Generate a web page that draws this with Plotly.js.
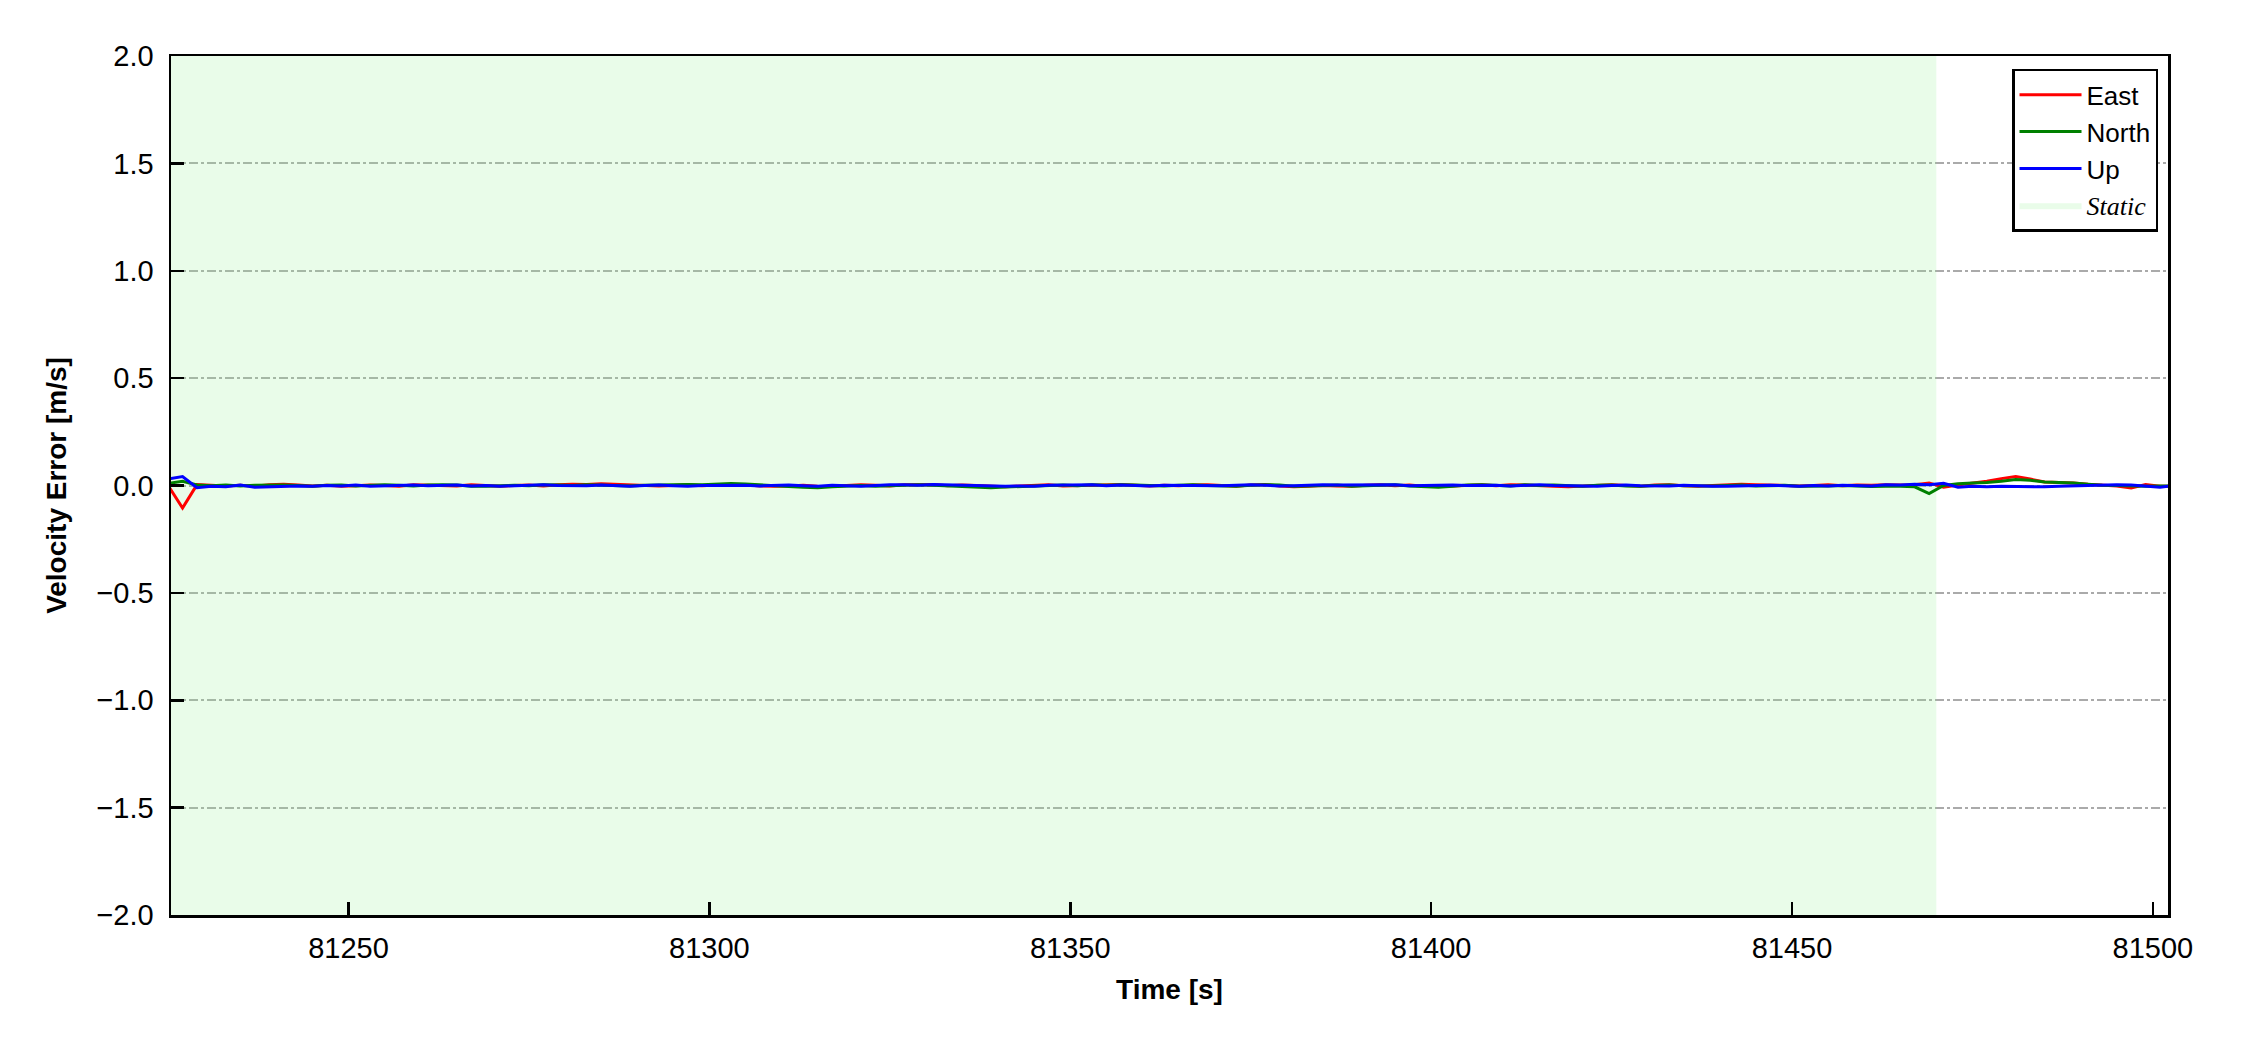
<!DOCTYPE html>
<html>
<head>
<meta charset="utf-8">
<script src="https://cdn.plot.ly/plotly-3.0.1.min.js"></script>
<style>html,body{margin:0;padding:0;background:#fff;}#chart{width:2250px;height:1050px;}</style>
</head>
<body>
<div id="chart"></div>
<script>
// Time axis: samples every 2 s starting at t0
const t0 = 81225;
const dt = 2;

// East velocity error [m/s]
const eastErr = [
  0.000, -0.105, 0.004, 0.002, -0.002, 0.001, -0.003, 0.004, 0.006, 0.002,
  -0.002, 0.001, -0.003, -0.001, 0.002, 0.000, -0.004, 0.003, 0.002, 0.001,
  -0.002, 0.003, 0.001, -0.003, 0.000, 0.002, -0.002, 0.004, 0.006, 0.005,
  0.008, 0.006, 0.004, 0.001, -0.002, 0.000, 0.003, -0.001, 0.002, 0.000,
  0.004, -0.002, -0.004, -0.002, 0.001, -0.003, -0.005, 0.000, 0.003, 0.001,
  -0.002, 0.004, 0.003, 0.005, -0.001, 0.002, 0.000, -0.004, -0.006, -0.002,
  0.001, 0.004, -0.002, 0.000, 0.003, 0.002, 0.005, 0.001, -0.002, 0.001,
  -0.001, 0.002, 0.004, 0.000, -0.003, 0.002, 0.005, -0.002, -0.006, -0.003,
  0.000, -0.002, -0.004, 0.001, 0.003, -0.001, 0.002, -0.003, -0.005, -0.002,
  0.001, 0.003, -0.001, 0.004, 0.002, -0.002, -0.004, -0.006, -0.002, 0.001,
  0.003, 0.000, -0.003, 0.002, 0.004, -0.001, -0.003, 0.000, 0.002, 0.006,
  0.004, 0.002, 0.001, -0.002, 0.000, 0.003, -0.001, 0.002, 0.001, 0.004,
  0.002, 0.004, 0.012, -0.008, 0.002, 0.010, 0.020, 0.032, 0.042, 0.030,
  0.016, 0.014, 0.012, 0.006, 0.002, -0.002, -0.012, 0.004, -0.004, -0.003
];

// North velocity error [m/s]
const northErr = [
  0.010, 0.020, 0.002, -0.001, 0.002, -0.002, 0.001, 0.003, 0.002, 0.000,
  -0.003, 0.001, 0.002, -0.002, 0.000, 0.003, 0.001, -0.002, 0.002, 0.004,
  0.002, -0.003, -0.004, -0.002, 0.001, -0.001, 0.003, 0.002, 0.000, 0.004,
  0.003, 0.000, -0.002, 0.001, 0.003, 0.002, 0.005, 0.004, 0.006, 0.009,
  0.007, 0.002, -0.002, -0.005, -0.008, -0.010, -0.006, -0.003, 0.000, -0.004,
  -0.002, 0.002, 0.004, 0.001, -0.002, -0.004, -0.008, -0.010, -0.007, -0.004,
  -0.003, 0.000, 0.002, -0.001, 0.003, 0.001, 0.004, 0.002, 0.000, -0.002,
  0.001, 0.003, 0.000, -0.002, -0.004, 0.001, 0.004, 0.002, -0.003, -0.002,
  0.000, 0.002, -0.003, -0.001, 0.001, 0.003, -0.002, -0.005, -0.008, -0.004,
  0.002, 0.004, 0.001, -0.002, 0.003, 0.000, 0.002, -0.002, -0.004, 0.001,
  0.002, -0.002, -0.004, 0.000, 0.002, -0.001, -0.003, -0.002, 0.000, 0.002,
  -0.002, -0.001, 0.001, -0.003, -0.004, -0.002, 0.000, -0.003, -0.005, -0.004,
  -0.003, -0.006, -0.038, 0.000, 0.008, 0.012, 0.014, 0.020, 0.028, 0.024,
  0.016, 0.014, 0.012, 0.006, 0.001, 0.000, -0.003, -0.004, -0.002, -0.002
];

// Up velocity error [m/s]
const upErr = [
  0.030, 0.042, -0.010, -0.004, -0.006, 0.002, -0.008, -0.005, -0.004, -0.002,
  -0.004, 0.000, -0.002, 0.002, -0.003, -0.001, 0.001, 0.002, -0.001, 0.000,
  0.002, -0.002, 0.000, -0.003, -0.001, 0.002, 0.003, 0.000, -0.002, -0.001,
  0.002, 0.001, -0.003, 0.000, 0.002, -0.001, -0.003, 0.000, 0.001, -0.001,
  0.001, -0.002, 0.000, 0.002, -0.001, -0.003, 0.001, -0.002, -0.004, 0.000,
  0.004, 0.003, 0.001, 0.005, 0.003, 0.002, -0.001, 0.000, -0.003, -0.002,
  -0.004, 0.001, 0.002, 0.001, 0.003, -0.001, 0.002, 0.000, -0.002, 0.001,
  0.000, 0.002, -0.002, -0.001, 0.001, 0.003, 0.001, -0.002, -0.001, 0.002,
  0.004, 0.002, 0.003, 0.001, 0.002, 0.004, -0.001, 0.001, 0.003, 0.002,
  0.000, 0.002, 0.001, -0.002, -0.001, 0.003, 0.000, -0.002, -0.001, -0.003,
  0.000, 0.002, -0.001, -0.003, -0.002, 0.001, -0.002, -0.004, -0.003, -0.001,
  -0.002, 0.001, -0.001, -0.003, 0.000, -0.002, 0.001, 0.000, -0.002, 0.003,
  0.002, 0.006, 0.004, 0.010, -0.008, -0.004, -0.006, -0.004, -0.005, -0.006,
  -0.006, -0.004, -0.002, 0.000, 0.002, 0.004, 0.002, -0.002, -0.008, 0.000
];

// Static period
const staticStart = 81225;
const staticEnd = 81470;
const staticBand = [-2, 2];

const xRange = [81225.4, 81502.1];
const yRange = [-2, 2];
const yTicks = [-2.0, -1.5, -1.0, -0.5, 0.0, 0.5, 1.0, 1.5, 2.0];
const xTicks = [81250, 81300, 81350, 81400, 81450, 81500];

const times = eastErr.map((_, i) => t0 + i * dt);

const FONT = 'Liberation Sans, Arial, sans-serif';

const traces = [
  {
    x: [staticStart, staticEnd, staticEnd, staticStart, staticStart],
    y: [staticBand[0], staticBand[0], staticBand[1], staticBand[1], staticBand[0]],
    type: 'scatter', mode: 'lines', fill: 'toself',
    fillcolor: 'rgba(144,238,144,0.2)',
    line: {width: 0, color: 'rgba(144,238,144,0.2)'},
    name: '<span style="font-family:Liberation Serif, Times New Roman, serif"><i>Static</i></span>',
    legendrank: 4, hoverinfo: 'skip'
  },
  {x: times, y: eastErr, type: 'scatter', mode: 'lines', name: 'East',
   line: {color: '#ff0000', width: 3}, legendrank: 1},
  {x: times, y: northErr, type: 'scatter', mode: 'lines', name: 'North',
   line: {color: '#008000', width: 3}, legendrank: 2},
  {x: times, y: upErr, type: 'scatter', mode: 'lines', name: 'Up',
   line: {color: '#0000ff', width: 3}, legendrank: 3}
];

const layout = {
  width: 2250, height: 1050,
  paper_bgcolor: '#ffffff', plot_bgcolor: '#ffffff',
  margin: {l: 171, r: 82, t: 56, b: 135, pad: 0},
  font: {family: FONT, size: 29, color: '#000'},
  showlegend: true,
  legend: {
    x: 0.995, xanchor: 'right', y: 0.985, yanchor: 'top',
    bgcolor: '#ffffff', bordercolor: '#000', borderwidth: 2.5,
    font: {family: FONT, size: 26, color: '#000'},
    tracegroupgap: 0, itemwidth: 62
  },
  xaxis: {
    range: xRange, tickvals: xTicks, ticktext: xTicks.map(String),
    ticks: 'inside', ticklen: 13, tickwidth: 2.5, tickcolor: '#000',
    showline: true, linecolor: '#000', linewidth: 2.5, mirror: true,
    showgrid: false, zeroline: false,
    tickfont: {family: FONT, size: 29, color: '#000'},
    ticklabelstandoff: 6,
    title: {text: '<b>Time [s]</b>', font: {family: FONT, size: 28, color: '#000'}, standoff: 16}
  },
  yaxis: {
    range: yRange, tickvals: yTicks, ticktext: yTicks.map(v => (v < 0 ? '\u2212' : '') + Math.abs(v).toFixed(1)),
    ticks: 'inside', ticklen: 13, tickwidth: 2.5, tickcolor: '#000',
    showline: true, linecolor: '#000', linewidth: 2.5, mirror: true,
    showgrid: true, gridcolor: '#aaaaaa', gridwidth: 2, griddash: 'dashdot',
    zeroline: false,
    tickfont: {family: FONT, size: 29, color: '#000'},
    ticklabelstandoff: 9,
    title: {text: '<b>Velocity Error [m/s]</b>', font: {family: FONT, size: 28, color: '#000'}, standoff: 22}
  }
};

Plotly.newPlot('chart', traces, layout, {displayModeBar: false, staticPlot: true});
</script>
</body>
</html>
